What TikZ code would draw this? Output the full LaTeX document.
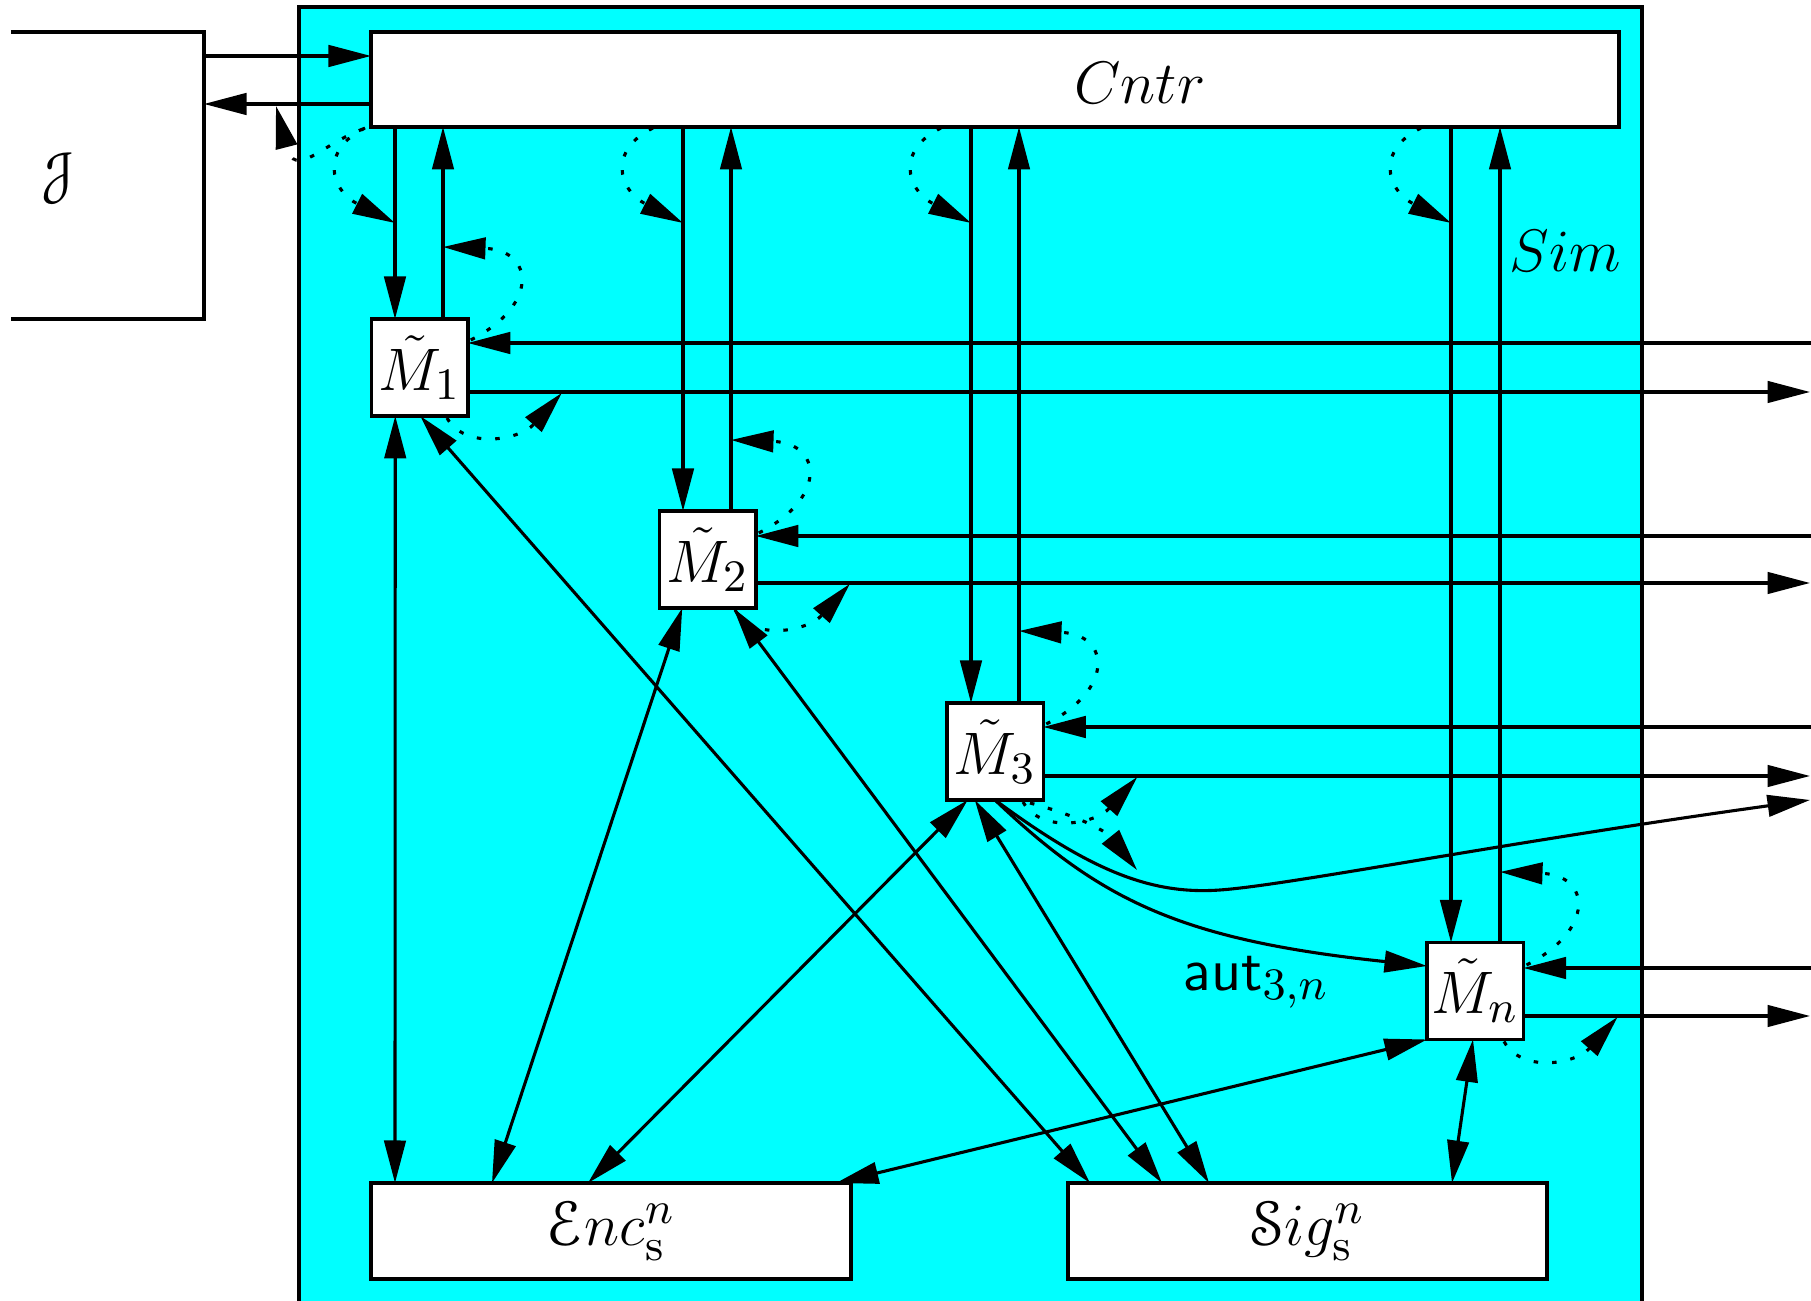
\documentclass[tikz,border=0pt]{standalone}
\usepackage{eucal}
\usetikzlibrary{arrows.meta,calc}
\definecolor{simcyan}{RGB}{0,255,255}
\begin{document}
\begin{tikzpicture}[x=0.2pt,y=-0.2pt, line width=0.62pt,
  >={Triangle[length=8.5pt,width=4.3pt]},
  lab/.style={font=\fontsize{12.6pt}{15pt}\selectfont, inner sep=0pt},
  box/.style={draw, fill=white, inner sep=0pt, outer sep=0pt, line width=0.7pt, lab},
  mbox/.style={box, minimum width=19.3pt, minimum height=19.4pt},
  dotloop/.style={->, dash pattern=on 0.9pt off 2.8pt}]
\useasboundingbox (0,0) rectangle (1811,1301);
% simulator area
\node[box, fill=simcyan, minimum width=268.6pt, minimum height=262.6pt] (Sim) at (970.5,663.5) {};
\node[lab, anchor=base] (SimL) at (1565,272) {$Sim$};
% J box (open on the left)
\node[inner sep=0pt, outer sep=0pt, minimum width=38.6pt, minimum height=57.4pt] (J) at (107.5,175.5) {};
\draw[line width=0.7pt] (J.north west) -- (J.north east) -- (J.south east) -- (J.south west);
\node[lab] (JL) at (58,178) {$\mathcal{J}$};
% controller
\node[box, minimum width=249.6pt, minimum height=19pt] (Cntr) at (995,79.5) {};
\node[lab, anchor=base] (CntrL) at (1140,104) {$Cntr$};
% machines
\node[mbox] (M1) at (419.5,367.5) {$\tilde{M}_1$};
\node[mbox] (M2) at (707.5,559.5) {$\tilde{M}_2$};
\node[mbox] (M3) at (995,751.5) {$\tilde{M}_3$};
\node[mbox] (Mn) at (1475.25,991) {$\tilde{M}_n$};
\node[box, minimum width=96pt, minimum height=19.2pt] (Enc) at (611,1231) {$\mathcal{E}nc^n_{\mathrm{s}}$};
\node[box, minimum width=95.8pt, minimum height=19.2pt] (Sig) at (1307.5,1231) {$\mathcal{S}ig^n_{\mathrm{s}}$};
% J <-> Cntr
\coordinate (ja) at (0,56);
\coordinate (jb) at (0,104);
\draw[->] (J.east |- ja) -- (Cntr.west |- ja);
\draw[->] (Cntr.west |- jb) -- (J.east |- jb);
\draw[dotloop] ($(Cntr.south west)+(-8,2)$) .. controls (320,145) and (295,180) .. (276,106);
% per-machine ports
\foreach \m/\d/\u/\i/\o in {M1/395/443/343/392, M2/683/731/536/583, M3/971/1019/727/776, Mn/1451/1500/968/1016} {
  \coordinate (dx) at (\d,0);
  \coordinate (ux) at (\u,0);
  \coordinate (ri) at (1811,\i);
  \coordinate (ro) at (1810,\o);
  \draw[->] (Cntr.south -| dx) -- (\m.north -| dx);
  \draw[->] (\m.north -| ux) -- (Cntr.south -| ux);
  \draw[->] (ri) -- (\m.east |- ri);
  \draw[->] (\m.east |- ro) -- (ro);
  \draw[dotloop] ($(Cntr.south -| dx)+(-30,1)$) .. controls +(-45,22) and +(-65,-33) .. ($(Cntr.south -| dx)+(0,96)$);
  \draw[dotloop] ($(\m.east |- ri)+(3,-3)$) .. controls +(69,-35) and +(91,3) .. ($(ux |- ri)+(0,-96)$);
  \draw[dotloop] ($(\m.south -| ux)+(4,2)$) .. controls +(18,32) and +(-42,47) .. ($(\m.east |- ro)+(94,1)$);
}
% M3 extra output and aut channel
\coordinate (o3b) at (1810,800);
\draw[->] (M3.south) .. controls (1090,870) and (1150,895) .. (1220,890) .. controls (1290,885) and (1500,843) .. (o3b);
\draw[dotloop] ($(M3.south)+(35,3)$) .. controls (1075,815) and (1105,830) .. (1137,870);
\draw[->] (M3.south) .. controls (1100,900) and (1180,940) .. ($(Mn.west)+(0,-25)$);
\node[lab, anchor=base] (aut) at (1256,991) {$\mathsf{aut}_{3,n}$};
% connections to Enc and Sig
\draw[<->] ($(M1.south west)+(24,0)$) -- ($(Enc.north west)+(24,0)$);
\draw[<->] ($(M1.south west)+(49,0)$) -- ($(Sig.north west)+(22,0)$);
\draw[<->] ($(M2.south west)+(23,0)$) -- ($(Enc.north west)+(121,0)$);
\draw[<->] ($(M2.south west)+(74,0)$) -- ($(Sig.north west)+(94,0)$);
\draw[<->] ($(M3.south west)+(21,0)$) -- ($(Enc.north west)+(217,0)$);
\draw[<->] ($(M3.south west)+(28,0)$) -- ($(Sig.north west)+(141,0)$);
\draw[<->] (Mn.south west) -- ($(Enc.north west)+(465,0)$);
\draw[<->] ($(Mn.south west)+(46,0)$) -- ($(Sig.north west)+(384,0)$);
\end{tikzpicture}
\end{document}
